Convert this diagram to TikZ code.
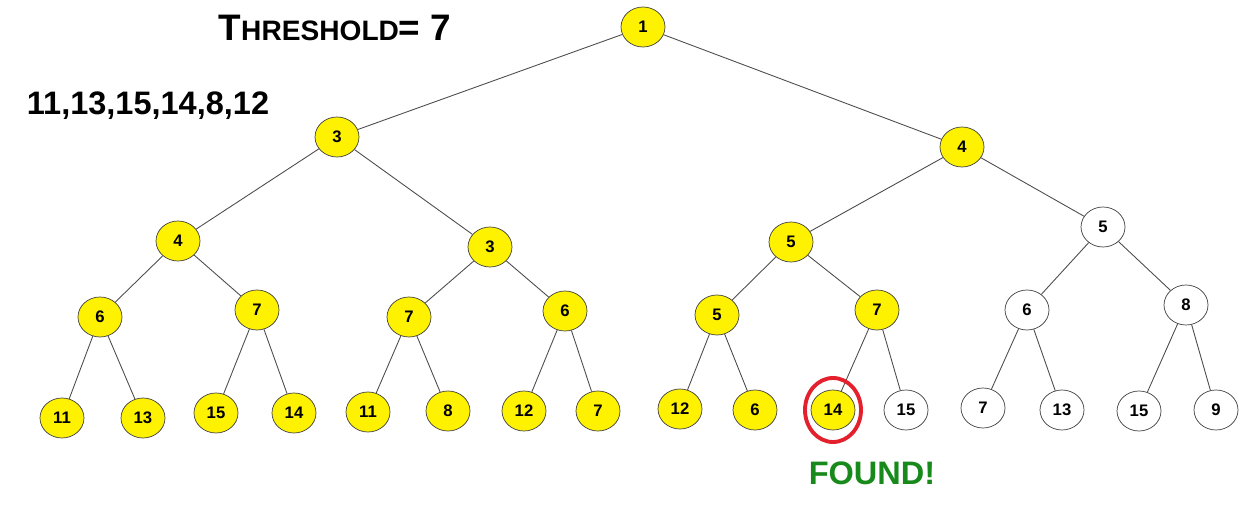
\documentclass[tikz,border=0pt]{standalone}
\usepackage{fontspec}
\setsansfont{Liberation Sans}
\usetikzlibrary{shapes.geometric}
\definecolor{foundgreen}{RGB}{24,138,28}
\definecolor{ringred}{RGB}{228,32,44}

\begin{document}
\begin{tikzpicture}[
  x = 0.02cm, y = -0.02cm,
  vtx/.style = {draw=black!75, ellipse, minimum width=0.88cm, minimum height=0.8cm,
                inner sep=0pt, font=\sffamily\bfseries\fontsize{9.5}{10}\selectfont},
  yel/.style = {vtx, fill=yellow},
  wht/.style = {vtx, fill=white},
  edge/.style = {draw=black!70, line width=0.5pt},
  lbl/.style = {font=\sffamily\bfseries, inner sep=0pt}
]
\useasboundingbox (0,0) rectangle (1254,526);

% labels
\node[lbl] (thr) at (335,28) {\fontsize{21}{21}\selectfont T\fontsize{16}{16}\selectfont HRESHOLD\fontsize{21}{21}\selectfont= 7};
\node[lbl] (seq) at (148,106) {\fontsize{18.5}{18.5}\selectfont 11,13,15,14,8,12};

% tree
\node[yel] (root) at (643,27)  {1};
\node[yel] (L)    at (337,137) {3};
\node[yel] (R)    at (962,147) {4};

\node[yel] (LL)   at (178,241) {4};
\node[yel] (LR)   at (490,247) {3};
\node[yel] (RL)   at (791,242) {5};
\node[wht] (RR)   at (1103,227) {5};

\node[yel] (LLL)  at (100,317) {6};
\node[yel] (LLR)  at (257,310) {7};
\node[yel] (LRL)  at (409,317) {7};
\node[yel] (LRR)  at (565,311) {6};
\node[yel] (RLL)  at (717,315) {5};
\node[yel] (RLR)  at (877,310) {7};
\node[wht] (RRL)  at (1027,310) {6};
\node[wht] (RRR)  at (1186,305) {8};

\node[yel] (LLLL) at (62,418)  {11};
\node[yel] (LLLR) at (143,418) {13};
\node[yel] (LLRL) at (216,413) {15};
\node[yel] (LLRR) at (294,413) {14};
\node[yel] (LRLL) at (368,412) {11};
\node[yel] (LRLR) at (448,411) {8};
\node[yel] (LRRL) at (524,411) {12};
\node[yel] (LRRR) at (598,411) {7};
\node[yel] (RLLL) at (680,409) {12};
\node[yel] (RLLR) at (755,410) {6};
\node[yel] (RLRL) at (833,410) {14};
\node[wht] (RLRR) at (906,410) {15};
\node[wht] (RRLL) at (983,408) {7};
\node[wht] (RRLR) at (1062,410) {13};
\node[wht] (RRRL) at (1139,411) {15};
\node[wht] (RRRR) at (1216,410) {9};

% edges
\draw[edge] (root) -- (L);
\draw[edge] (root) -- (R);
\draw[edge] (L) -- (LL);
\draw[edge] (L) -- (LR);
\draw[edge] (R) -- (RL);
\draw[edge] (R) -- (RR);
\draw[edge] (LL) -- (LLL);
\draw[edge] (LL) -- (LLR);
\draw[edge] (LR) -- (LRL);
\draw[edge] (LR) -- (LRR);
\draw[edge] (RL) -- (RLL);
\draw[edge] (RL) -- (RLR);
\draw[edge] (RR) -- (RRL);
\draw[edge] (RR) -- (RRR);
\draw[edge] (LLL) -- (LLLL);
\draw[edge] (LLL) -- (LLLR);
\draw[edge] (LLR) -- (LLRL);
\draw[edge] (LLR) -- (LLRR);
\draw[edge] (LRL) -- (LRLL);
\draw[edge] (LRL) -- (LRLR);
\draw[edge] (LRR) -- (LRRL);
\draw[edge] (LRR) -- (LRRR);
\draw[edge] (RLL) -- (RLLL);
\draw[edge] (RLL) -- (RLLR);
\draw[edge] (RLR) -- (RLRL);
\draw[edge] (RLR) -- (RLRR);
\draw[edge] (RRL) -- (RRLL);
\draw[edge] (RRL) -- (RRLR);
\draw[edge] (RRR) -- (RRRL);
\draw[edge] (RRR) -- (RRRR);

% found marker
\node[draw=ringred, line width=2.2pt, ellipse, minimum width=1.12cm, minimum height=1.28cm] (ring) at (RLRL) {};
\node[lbl, text=foundgreen] (found) at (872,473) {\fontsize{18.5}{18.5}\selectfont FOUND!};

\end{tikzpicture}
\end{document}
